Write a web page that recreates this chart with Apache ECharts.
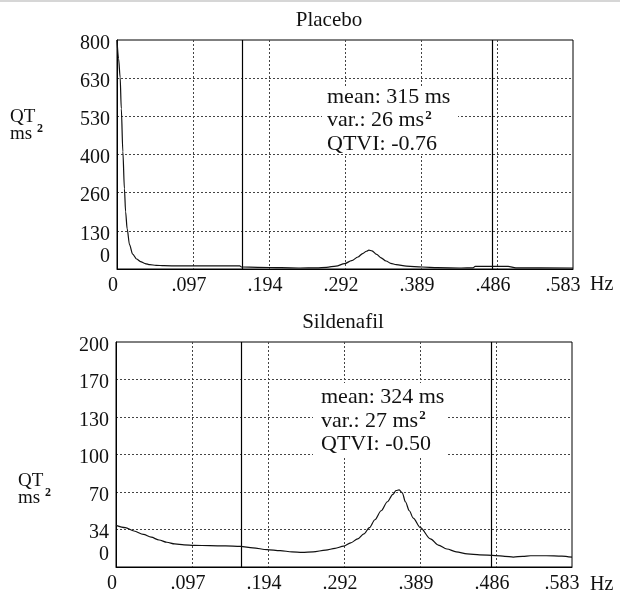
<!DOCTYPE html>
<html><head><meta charset="utf-8">
<script src="https://cdn.jsdelivr.net/npm/echarts@6/dist/echarts.min.js"></script>
<style>html,body{margin:0;padding:0;background:#fff}#c{width:620px;height:594px}</style>
</head><body><div id="c"></div>
<script>
// ---- data ----
const xTickLabels = ['0', '.097', '.194', '.292', '.389', '.486', '.583'];
const placeboYTickLabels = ['0', '130', '260', '400', '530', '630', '800'];
const sildYTickLabels = ['0', '34', '70', '100', '130', '170', '200'];
const xMax = 0.583;
const placeboMax = 800;
const sildMax = 200;
const bandEdges = [0.158, 0.484];

const placeboFreq = [0, 0.002, 0.004, 0.0055, 0.0075, 0.0095, 0.011, 0.013, 0.016, 0.020, 0.025, 0.030, 0.036, 0.042, 0.050, 0.060, 0.080, 0.110, 0.140, 0.157, 0.159, 0.180, 0.210, 0.234, 0.255, 0.268, 0.280, 0.291, 0.300, 0.308, 0.314, 0.319, 0.322, 0.326, 0.332, 0.337, 0.344, 0.350, 0.357, 0.370, 0.390, 0.410, 0.440, 0.455, 0.458, 0.500, 0.510, 0.583];
const placeboPower = [800, 735, 670, 560, 410, 280, 200, 140, 85, 52, 35, 26, 19, 15, 13, 11.5, 11, 11, 11, 11, 7, 6, 4.5, 3.5, 4, 6, 10, 19, 29, 42, 54, 62, 66, 63, 51, 40, 28, 20, 15, 10, 7, 4.5, 3.5, 4, 9, 9, 4, 3.5];

const sildFreq = [0, 0.012, 0.023, 0.035, 0.045, 0.055, 0.065, 0.075, 0.087, 0.100, 0.120, 0.140, 0.159, 0.175, 0.193, 0.210, 0.225, 0.238, 0.252, 0.268, 0.280, 0.291, 0.300, 0.309, 0.317, 0.324, 0.331, 0.339, 0.347, 0.354, 0.358, 0.362, 0.366, 0.370, 0.375, 0.380, 0.389, 0.402, 0.412, 0.423, 0.435, 0.449, 0.465, 0.485, 0.497, 0.508, 0.520, 0.530, 0.550, 0.570, 0.583];
const sildPower = [37, 35, 32, 29, 26.5, 24, 22, 20.5, 19.7, 19.2, 19, 18.7, 18.3, 17, 15.4, 14.5, 13.5, 13, 13.5, 15, 16.5, 18.5, 21.5, 25, 29.5, 35, 42, 50, 58, 64.5, 68, 68.5, 66, 58, 50, 43.5, 35, 25, 19.5, 16, 13.5, 11.6, 10.8, 10.2, 9.5, 8.8, 9.5, 10, 10, 9.7, 8.7];

const placeboStats = ['mean: 315 ms', 'var.: 26 ms', '2', 'QTVI: -0.76'];
const sildStats = ['mean: 324 ms', 'var.: 27 ms', '2', 'QTVI: -0.50'];

// ---- chart ----
const FAM = 'Liberation Serif';
const chart = echarts.init(document.getElementById('c'), null, {renderer: 'canvas'});

const measureCtx = document.createElement('canvas').getContext('2d');
function textWidth(t, size) { measureCtx.font = size + 'px Liberation Serif'; return measureCtx.measureText(t).width; }

const labelRichBase = {fontFamily: FAM, fontSize: 20, color: '#111', fontWeight: 'normal'};

function xAxisCfg(gi) {
  const iv = xMax / 6;
  return {
    type: 'value', gridIndex: gi, min: 0, max: xMax, interval: iv,
    axisLine: {show: true, lineStyle: {color: '#000', width: 1}},
    axisTick: {show: false},
    splitLine: {show: true, showMinLine: false, showMaxLine: false, lineStyle: {color: '#444', type: [2, 2], width: 1}},
    axisLabel: {
      margin: 7, color: '#111', fontFamily: FAM, fontSize: 20,
      formatter: v => {
        const i = Math.round(v / iv);
        return i === 6 ? '{e|' + xTickLabels[i] + '}' : '{n|' + xTickLabels[i] + '}';
      },
      rich: {
        n: Object.assign({padding: [0, 8, 0, 0]}, labelRichBase),
        e: Object.assign({padding: [0, 20, 0, 0]}, labelRichBase)
      }
    }
  };
}
function yAxisCfg(gi, max, labels) {
  const iv = max / 6;
  return {
    type: 'value', gridIndex: gi, min: 0, max: max, interval: iv,
    axisLine: {show: true, lineStyle: {color: '#000', width: 1}},
    axisTick: {show: false},
    splitLine: {show: true, showMinLine: false, showMaxLine: false, lineStyle: {color: '#444', type: [2, 2], width: 1}},
    axisLabel: {
      margin: 7, color: '#111', fontFamily: FAM, fontSize: 20,
      formatter: v => {
        const i = Math.round(v / iv);
        return i === 0 ? '{lo|' + labels[i] + '}' : '{n|' + labels[i] + '}';
      },
      rich: {
        n: Object.assign({padding: [7, 0, 0, 0]}, labelRichBase),
        lo: Object.assign({padding: [0, 0, 25, 0]}, labelRichBase)
      }
    }
  };
}
function seriesCfg(gi, fx, fy) {
  return {
    type: 'line', xAxisIndex: gi, yAxisIndex: gi,
    data: fx.map((f, i) => [f, fy[i]]),
    showSymbol: false, smooth: 0.3, smoothMonotone: 'x',
    lineStyle: {color: '#111', width: 1.2},
    z: 5,
    markLine: {
      silent: true, symbol: ['none', 'none'], label: {show: false},
      lineStyle: {color: '#000', type: 'solid', width: 1.2},
      data: bandEdges.map(v => ({xAxis: v}))
    }
  };
}
function txt(x, y, text, size, opts) {
  return Object.assign({type: 'text', x: x, y: y, z: 60,
    style: Object.assign({text: text, fontFamily: FAM, fontSize: size, fill: '#111', textAlign: 'left', textVerticalAlign: 'middle'}, (opts && opts.style) || {})
  }, (opts && opts.el) || {});
}
function statsEls(stats, x, y0) {
  const lh = 23.5;
  const w = textWidth(stats[1], 22);
  return [
    txt(x, y0, stats[0], 22),
    txt(x, y0 + lh, stats[1], 22),
    txt(x + w + 1, y0 + lh - 5, stats[2], 13, {style: {fontWeight: 'bold'}}),
    txt(x, y0 + 2 * lh, stats[3], 22)
  ];
}
function qtEls(x, y0) {
  const w = textWidth('ms ', 19);
  return [
    txt(x, y0, 'QT', 19),
    txt(x, y0 + 17.5, 'ms', 19),
    txt(x + w, y0 + 12, '2', 12, {style: {fontWeight: 'bold'}})
  ];
}

chart.setOption({
  animation: false,
  backgroundColor: '#fff',
  textStyle: {fontFamily: FAM},
  grid: [
    {left: 117, top: 40, width: 456, height: 229, show: true, borderColor: '#000', borderWidth: 1, backgroundColor: 'transparent'},
    {left: 116, top: 342, width: 456, height: 230, show: true, borderColor: '#000', borderWidth: 1, backgroundColor: 'transparent'}
  ],
  xAxis: [xAxisCfg(0), xAxisCfg(1)],
  yAxis: [yAxisCfg(0, placeboMax, placeboYTickLabels), yAxisCfg(1, sildMax, sildYTickLabels)],
  series: [seriesCfg(0, placeboFreq, placeboPower), seriesCfg(1, sildFreq, sildPower)],
  graphic: [
    {type: 'rect', shape: {x: 0, y: 0, width: 620, height: 2}, style: {fill: '#d6d6d6'}, z: 50},
    txt(329, 20, 'Placebo', 21, {style: {textAlign: 'center'}}),
    txt(343, 322, 'Sildenafil', 21, {style: {textAlign: 'center'}}),
    {type: 'rect', shape: {x: 322, y: 87, width: 136, height: 67}, style: {fill: '#fff'}, z: 50},
    {type: 'rect', shape: {x: 313, y: 383, width: 135, height: 73}, style: {fill: '#fff'}, z: 50}
  ].concat(qtEls(10, 117), qtEls(18, 481), statsEls(placeboStats, 327, 97), statsEls(sildStats, 321, 397.5), [
    txt(590, 285, 'Hz', 20),
    txt(590, 585, 'Hz', 20)
  ])
});
</script>
</body></html>
